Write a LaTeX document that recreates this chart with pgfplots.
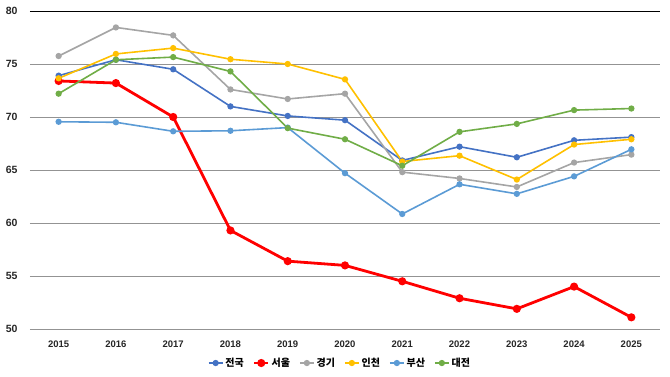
\documentclass[border=0pt]{standalone}
\usepackage{pgfplots}
\pgfplotsset{compat=1.18}
\usepackage{fontspec}
\setmainfont{Liberation Sans}
\newfontfamily\kr{Noto Sans CJK KR}
\definecolor{cJ}{HTML}{4472C4}
\definecolor{cS}{HTML}{FF0000}
\definecolor{cG}{HTML}{A5A5A5}
\definecolor{cI}{HTML}{FFC000}
\definecolor{cB}{HTML}{5B9BD5}
\definecolor{cD}{HTML}{70AD47}
\begin{document}
\begin{tikzpicture}
\path[use as bounding box] (0,0) rectangle (670pt,377pt);
\begin{axis}[
  at={(30pt,48pt)}, anchor=south west,
  scale only axis, width=630pt, height=318pt,
  xmin=2014.5, xmax=2025.5, ymin=50, ymax=80,
  xtick={2015,...,2025},
  ytick={50,55,...,75},
  extra y ticks={80},
  extra y tick style={grid style={black, line width=0.9pt}},
  axis line style={draw=none},
  ymajorgrids, grid style={gray!85, line width=0.7pt},
  major tick length=0pt,
  tick style={draw=none},
  x tick label style={font=\bfseries\fontsize{9.5}{10}\selectfont, text=black!85, yshift=-8pt},
  y tick label style={font=\bfseries\fontsize{10.5}{11}\selectfont, text=black!85, xshift=-9pt},
  xticklabel={\pgfmathprintnumber[1000 sep={},fixed]{\tick}},
  /pgf/number format/assume math mode=true,
  legend style={at={(0.492,-0.107)}, anchor=center, draw=none, fill=none,
    legend columns=6, font=\kr\bfseries\fontsize{10}{11}\selectfont,
    /tikz/every even column/.append style={column sep=7pt}},
  legend image code/.code={\draw[#1, mark repeat=2, mark phase=2] plot coordinates {(0pt,0pt) (7pt,0pt) (14pt,0pt)};},
  every axis plot/.append style={mark=*, line width=1.6pt, mark size=2.3pt},
  clip=false,
]
\addplot[color=cJ] coordinates {(2015,73.9)(2016,75.4)(2017,74.5)(2018,71.0)(2019,70.1)(2020,69.7)(2021,65.9)(2022,67.2)(2023,66.2)(2024,67.8)(2025,68.1)};
\addlegendentry{전국}
\addplot[color=cS, line width=2.8pt, mark size=2.6pt] coordinates {(2015,73.4)(2016,73.2)(2017,70.0)(2018,59.3)(2019,56.4)(2020,56.0)(2021,54.5)(2022,52.9)(2023,51.9)(2024,54.0)(2025,51.1)};
\addlegendentry{서울}
\addplot[color=cG] coordinates {(2015,75.75)(2016,78.45)(2017,77.7)(2018,72.6)(2019,71.7)(2020,72.2)(2021,64.8)(2022,64.2)(2023,63.4)(2024,65.7)(2025,66.45)};
\addlegendentry{경기}
\addplot[color=cI] coordinates {(2015,73.65)(2016,75.95)(2017,76.5)(2018,75.45)(2019,75.0)(2020,73.55)(2021,65.8)(2022,66.35)(2023,64.1)(2024,67.4)(2025,67.9)};
\addlegendentry{인천}
\addplot[color=cB] coordinates {(2015,69.55)(2016,69.5)(2017,68.65)(2018,68.7)(2019,69.0)(2020,64.7)(2021,60.85)(2022,63.65)(2023,62.75)(2024,64.4)(2025,66.95)};
\addlegendentry{부산}
\addplot[color=cD] coordinates {(2015,72.2)(2016,75.4)(2017,75.65)(2018,74.3)(2019,68.95)(2020,67.9)(2021,65.4)(2022,68.6)(2023,69.35)(2024,70.65)(2025,70.8)};
\addlegendentry{대전}
\end{axis}
\end{tikzpicture}
\end{document}
